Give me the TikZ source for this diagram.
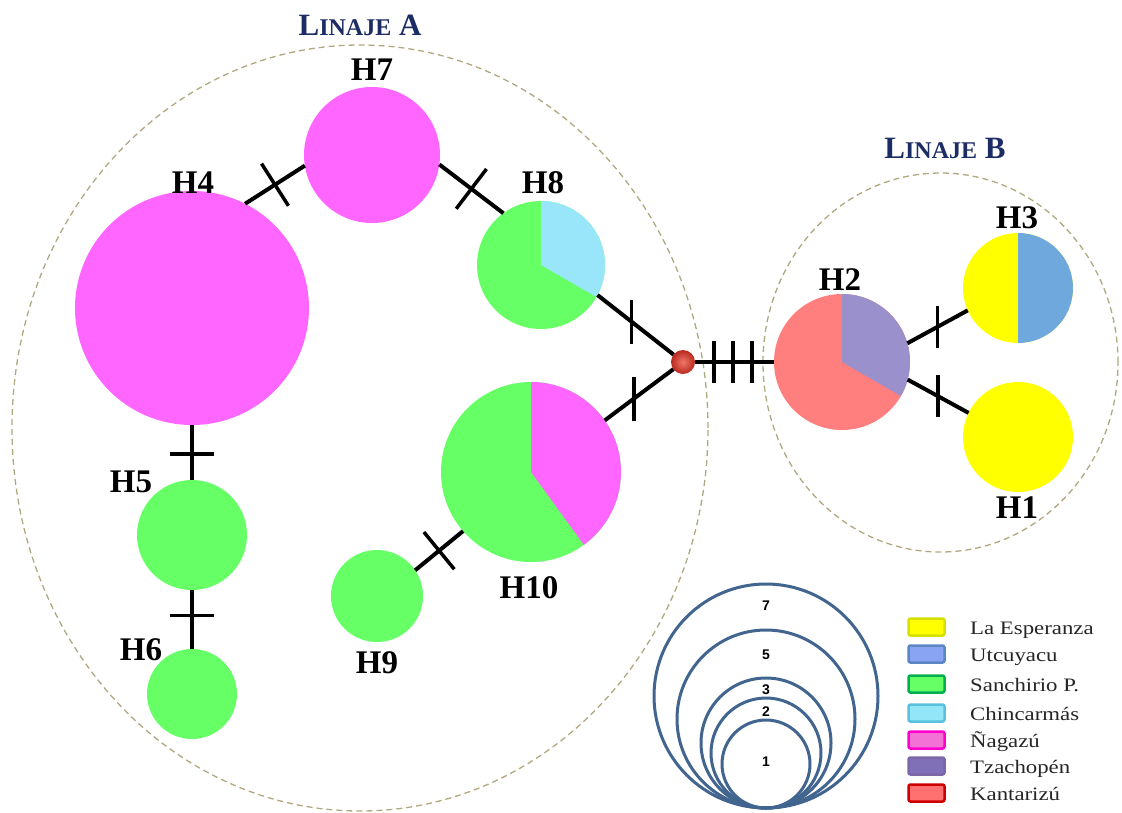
\documentclass[tikz,border=0pt]{standalone}
\usepackage{fontspec}
\setmainfont{Liberation Serif}
\setsansfont{Liberation Sans}
\newfontfamily\legendfont[FakeStretch=1.2]{Liberation Serif}
\usepackage{tikz}
\usetikzlibrary{positioning}
\usetikzlibrary{calc}

% haplotype colours
\definecolor{nagazu}{HTML}{FF66FF}
\definecolor{sanchirio}{HTML}{66FF66}
\definecolor{chincarmas}{HTML}{99E6FA}
\definecolor{esperanza}{HTML}{FFFF00}
\definecolor{utcuyacu}{HTML}{6FA8DC}
\definecolor{tzachopen}{HTML}{9990CC}
\definecolor{kantarizu}{HTML}{FF7F7F}
% legend borders / fills
\definecolor{espLine}{HTML}{D6E000}
\definecolor{utcFill}{HTML}{8AA4F4}
\definecolor{utcLine}{HTML}{5A86C2}
\definecolor{sanLine}{HTML}{00B050}
\definecolor{chiFill}{HTML}{92E6F8}
\definecolor{chiLine}{HTML}{5BC0DE}
\definecolor{nagFill}{HTML}{F272D6}
\definecolor{nagLine}{HTML}{FF00CC}
\definecolor{tzaFill}{HTML}{8070B8}
\definecolor{tzaLine}{HTML}{7B68A8}
\definecolor{kanFill}{HTML}{FF7070}
\definecolor{kanLine}{HTML}{CC0000}
% other
\definecolor{linaje}{HTML}{B0A880}
\definecolor{navy}{HTML}{1C2C64}
\definecolor{sizeblue}{HTML}{41658F}
\definecolor{medredIn}{HTML}{F0786A}
\definecolor{medredOut}{HTML}{B8281E}

\tikzset{
	hap/.style={circle, inner sep=0pt, outer sep=0pt, minimum size=#1},
	hlabel/.style={inner sep=0pt, font=\bfseries\fontsize{33}{36}\selectfont},
	link/.style={line width=4pt},
	mutmark/.style={fill=black, inner sep=0pt, outer sep=0pt, minimum width=3.5pt, minimum height=#1},
	mutmark/.default=44pt,
	lineage/.style={draw=linaje, line width=1.3pt, dash pattern=on 6pt off 4pt},
	linaje title/.style={inner sep=0pt, text=navy, font=\bfseries\fontsize{31}{34}\selectfont},
	sizering/.style={draw=sizeblue, line width=3pt},
	sizenum/.style={inner sep=0pt, font=\sffamily\bfseries\fontsize{14}{16}\selectfont},
	swatch/.style={rounded corners=2pt, line width=2.5pt, minimum width=36pt, minimum height=17pt, inner sep=0pt},
	legtext/.style={inner sep=0pt, anchor=base west, text=black!85, font=\legendfont\fontsize{19}{22}\selectfont},
}

\begin{document}
\begin{tikzpicture}[x=1pt, y=-1pt]
	
	\path[use as bounding box, fill=white] (0,0) rectangle (1122,812);
	
	% the two lineages
	\draw[lineage] (360,428) ellipse [x radius=348pt, y radius=383pt];
	\draw[lineage] (940.5,362.5) ellipse [x radius=177.5pt, y radius=189.5pt];
	
	\node[linaje title] (linA) at (360,25) {L{\fontsize{24}{26}\selectfont INAJE} A};
	\node[linaje title] (linB) at (945,148) {L{\fontsize{24}{26}\selectfont INAJE} B};
	
	% haplotypes (centre, radius in px)
	\node[hap=234pt, fill=nagazu] (H4) at (192,308) {};
	\node[hap=136pt, fill=nagazu] (H7) at (372,155) {};
	\node[hap=128pt, fill=sanchirio] (H8) at (541,265) {};
	\node[hap=180pt, fill=sanchirio] (H10) at (531,472) {};
	\node[hap=110pt, fill=sanchirio] (H5) at (192,535) {};
	\node[hap=90pt, fill=sanchirio] (H6) at (192,694) {};
	\node[hap=92pt, fill=sanchirio] (H9) at (377,596) {};
	\node[hap=136pt, fill=kantarizu] (H2) at (842,362) {};
	\node[hap=110pt, fill=esperanza] (H3) at (1018,288) {};
	\node[hap=110pt, fill=esperanza] (H1) at (1018,437) {};
	
	% pie sectors
	\fill[chincarmas] (H8.center) -- (H8.north) arc[start angle=90, end angle=-30, radius=64pt] -- cycle;
	\fill[nagazu] (H10.center) -- (H10.north) arc[start angle=90, end angle=-54, radius=90pt] -- cycle;
	\fill[tzachopen] (H2.center) -- (H2.north) arc[start angle=90, end angle=-30, radius=68pt] -- cycle;
	\fill[utcuyacu] (H3.north) arc[start angle=90, end angle=-90, radius=55pt] -- cycle;
	
	% median vector
	\node[circle, inner sep=0pt, outer sep=0pt, minimum size=24pt, inner color=medredIn, outer color=medredOut] (med) at (683,362) {};
	
	% connections with mutational steps
	\draw[link] (H4.63) -- node[mutmark=50pt, sloped]{} (H7.189);
	\draw[link] (H7.-8) -- node[mutmark=50pt, sloped]{} (H8.126);
	\draw[link] (H8.-28) -- node[mutmark, pos=0.447]{} (med);
	\draw[link] (H10.35) -- node[mutmark, pos=0.425]{} (med);
	\draw[link] (med) -- node[mutmark=42pt, pos=0.24]{} node[mutmark=42pt, pos=0.48]{} node[mutmark=42pt, pos=0.72]{} (H2.180);
	\draw[link] (H2.16) -- node[mutmark=42pt]{} (H3.204);
	\draw[link] (H2.-15) -- node[mutmark=42pt]{} (H1.154);
	\draw[link] (H4.south) -- node[mutmark, sloped, pos=0.53]{} (H5.north);
	\draw[link] (H5.south) -- node[mutmark, sloped, pos=0.43]{} (H6.north);
	\draw[link] (H9.34) -- node[mutmark=48pt, sloped]{} (H10.221);
	
	% haplotype labels
	\node[hlabel] (H7Label) at ($(H7)+(0,-85)$) {H7};
	\node[hlabel] (H4Label) at ($(H4)+(1,-125)$) {H4};
	\node[hlabel] (H8Label) at ($(H8)+(2,-82)$) {H8};
	\node[hlabel] (H2Label) at ($(H2)+(-2,-82)$) {H2};
	\node[hlabel] (H3Label) at ($(H3)+(-1,-70)$) {H3};
	\node[hlabel] (H1Label) at ($(H1)+(-1,71)$) {H1};
	\node[hlabel] (H5Label) at ($(H5)+(-61,-53)$) {H5};
	\node[hlabel] (H6Label) at ($(H6)+(-51,-44)$) {H6};
	\node[hlabel] (H9Label) at ($(H9)+(0,67)$) {H9};
	\node[hlabel] (H10Label) at ($(H10)+(-2,116)$) {H10};
	
	% circle size key
	\draw[sizering] (766,696) circle[radius=112pt];
	\draw[sizering] (766,719) circle[radius=89pt];
	\draw[sizering] (766,743) circle[radius=65pt];
	\draw[sizering] (766,753) circle[radius=55pt];
	\draw[sizering] (766,764) circle[radius=44pt];
	\node[sizenum] (n7) at (766,606) {7};
	\node[sizenum] (n5) at (766,655) {5};
	\node[sizenum] (n3) at (766,690) {3};
	\node[sizenum] (n2) at (766,712) {2};
	\node[sizenum] (n1) at (766,762) {1};
	
	% locality legend
	\foreach \yy/\fc/\bc/\name [count=\i] in {
			627/esperanza/espLine/La Esperanza,
			654/utcFill/utcLine/Utcuyacu,
			684/sanchirio/sanLine/Sanchirio P.,
			713/chiFill/chiLine/Chincarmás,
			740/nagFill/nagLine/Ñagazú,
			766/tzaFill/tzaLine/Tzachopén,
			793/kanFill/kanLine/Kantarizú}{
		\node[swatch, fill=\fc, draw=\bc] (sw\i) at (926.5,\yy) {};
		\node[legtext] (loc\i) at (970,\yy+7) {\name};
	}
	
\end{tikzpicture}
\end{document}
